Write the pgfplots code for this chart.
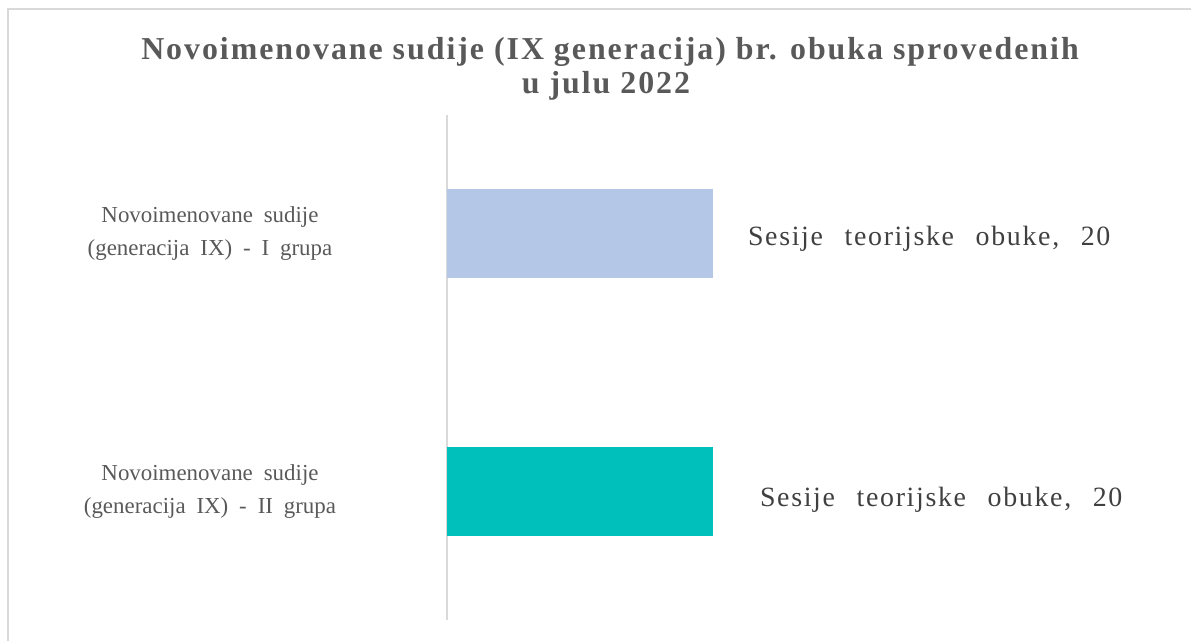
\documentclass[border=0pt]{standalone}
\usepackage{pgfplots}
\pgfplotsset{compat=1.18}
\usepackage{fontspec}
\setmainfont{Liberation Serif}
\newfontfamily\ttlfont[LetterSpace=6.2]{Liberation Serif}
\newfontfamily\catfont[WordSpace=1.9]{Liberation Serif}
\newfontfamily\lblfont[LetterSpace=6,WordSpace=2.5]{Liberation Serif}
\definecolor{axisgray}{HTML}{D9D9D9}
\definecolor{txtgray}{HTML}{595959}
\definecolor{lblgray}{HTML}{404040}
\definecolor{barone}{HTML}{B4C7E7}
\definecolor{bartwo}{HTML}{00C0BB}
\begin{document}
\begin{tikzpicture}
  \path[use as bounding box] (0,0) rectangle (595.5bp,-320.5bp);
  % chart frame (only top and left edges are inside the picture)
  \draw[axisgray, line width=1.2bp] (4bp,-320.5bp) -- (4bp,-4.5bp) -- (595.5bp,-4.5bp);

  % title, two lines
  \tikzset{ttl/.style={font=\ttlfont\fontsize{16}{17}\selectfont\bfseries,
                       text=txtgray, anchor=base, inner sep=0pt}}
  \node[ttl] at (305bp,-29.5bp) {Novoimenovane sudije (IX generacija) br. obuka sprovedenih};
  \node[ttl] at (303bp,-46.5bp) {u julu 2022};

  \begin{axis}[
      at={(223.5bp,-310bp)}, anchor=south west,
      scale only axis,
      width=266bp, height=252.5bp,
      xbar,
      xmin=0, xmax=40,
      ymin=-0.5, ymax=1.46,
      bar width=44.5bp,
      bar shift=0pt,
      axis x line=none,
      axis y line*=left,
      y axis line style={-, draw=axisgray, line width=1bp},
      major tick length=0pt,
      ytick={0,1},
      yticklabels={{Novoimenovane sudije\\(generacija IX) - II grupa},
                   {Novoimenovane sudije\\(generacija IX) - I grupa}},
      yticklabel style={font=\catfont\fontsize{11.5}{16.5}\selectfont,
                        text=txtgray, align=center, anchor=center, xshift=-118.5bp},
      /pgf/number format/assume math mode=true,
      nodes near coords={Sesije teorijske obuke, \pgfmathprintnumber{\pgfplotspointmeta}},
      nodes near coords style={font=\lblfont\fontsize{14}{16}\selectfont,
                               text=lblgray, anchor=west},
      clip=false,
  ]
  % II grupa (bottom)
  \addplot[fill=bartwo, draw=none, nodes near coords style={xshift=20bp, yshift=-4.5bp}]
      coordinates {(20,0)};
  % I grupa (top)
  \addplot[fill=barone, draw=none, nodes near coords style={xshift=14bp, yshift=-2.5bp}]
      coordinates {(20,1)};
  \end{axis}
\end{tikzpicture}
\end{document}
